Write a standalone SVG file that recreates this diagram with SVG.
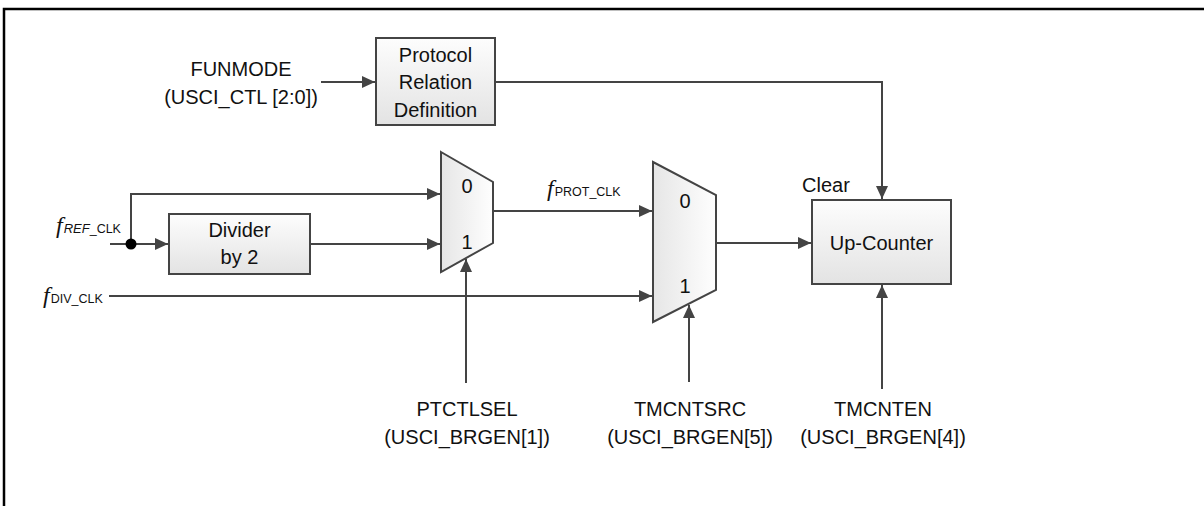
<svg xmlns="http://www.w3.org/2000/svg" width="1204" height="506" viewBox="0 0 1204 506">
<style>
text{font-family:"Liberation Sans",Arial,sans-serif;font-size:20px;fill:#111}
.c{text-anchor:middle}
.box{stroke:#444;stroke-width:2;fill:url(#gv)}
.mux{stroke:#444;stroke-width:2;fill:url(#gh)}
.w{fill:none;stroke:#444;stroke-width:2}
.fi{font-family:"Liberation Serif",serif;font-style:italic;font-size:24px}
.sub{font-size:12.5px}
.subi{font-size:13px;font-style:italic}
</style>
<defs>
<linearGradient id="gv" x1="0" y1="0" x2="0" y2="1"><stop offset="0" stop-color="#fdfdfd"/><stop offset="1" stop-color="#e3e3e3"/></linearGradient>
<linearGradient id="gh" x1="0" y1="0" x2="1" y2="0"><stop offset="0" stop-color="#e6e6e6"/><stop offset="1" stop-color="#fefefe"/></linearGradient>
<marker id="ah" markerUnits="userSpaceOnUse" markerWidth="14" markerHeight="12" refX="13" refY="6" orient="auto"><path d="M0,0 L13,6 L0,12 z" fill="#444"/></marker>
</defs>
<path d="M4,506 V9 H1204" fill="none" stroke="#000" stroke-width="2.5"/>

<g id="connectors">
<path class="w" d="M321,82 H375" marker-end="url(#ah)"/>
<path class="w" d="M495,82 H882 V199" marker-end="url(#ah)"/>
<path class="w" d="M131,244 V194 H440" marker-end="url(#ah)"/>
<path class="w" d="M110,244 H168" marker-end="url(#ah)"/>
<circle cx="131" cy="244" r="5.5" fill="#000"/>
<path class="w" d="M310,244 H440" marker-end="url(#ah)"/>
<path class="w" d="M109,296 H652" marker-end="url(#ah)"/>
<path class="w" d="M493,211 H652" marker-end="url(#ah)"/>
<path class="w" d="M716,243 H811" marker-end="url(#ah)"/>
<path class="w" d="M466,383 V259" marker-end="url(#ah)"/>
<path class="w" d="M689,382 V305" marker-end="url(#ah)"/>
<path class="w" d="M882,389 V285" marker-end="url(#ah)"/>
</g>

<g id="funmode">
<text class="c" x="241" y="76">FUNMODE</text>
<text class="c" x="241" y="104">(USCI_CTL [2:0])</text>
</g>

<g id="protocol">
<rect class="box" x="376" y="38" width="119" height="87"/>
<text class="c" x="435.5" y="62">Protocol</text>
<text class="c" x="435.5" y="89">Relation</text>
<text class="c" x="435.5" y="117">Definition</text>
</g>

<g id="fref">
<text x="56" y="233"><tspan class="fi">f</tspan><tspan class="subi" dx="1">REF</tspan><tspan class="sub">_</tspan><tspan class="sub">CLK</tspan></text>
</g>

<g id="divider">
<rect class="box" x="169" y="214" width="141" height="60"/>
<text class="c" x="239.5" y="237">Divider</text>
<text class="c" x="239.5" y="264">by 2</text>
</g>

<g id="fdiv">
<text x="43" y="303"><tspan class="fi">f</tspan><tspan class="sub" dx="1">DIV_CLK</tspan></text>
</g>

<g id="mux1">
<path class="mux" d="M441,152 L493,182 L493,243 L441,272 Z"/>
<text class="c" x="467" y="193">0</text>
<text class="c" x="467" y="249">1</text>
</g>

<g id="fprot">
<text x="547" y="196"><tspan class="fi">f</tspan><tspan class="sub" dx="1">PROT_CLK</tspan></text>
</g>

<g id="mux2">
<path class="mux" d="M653,162 L716,195 L716,290 L653,322 Z"/>
<text class="c" x="685" y="208">0</text>
<text class="c" x="685" y="293">1</text>
</g>

<g id="upcounter">
<text x="802" y="192">Clear</text>
<rect class="box" x="812" y="200" width="139" height="84"/>
<text class="c" x="881.5" y="250">Up-Counter</text>
</g>

<g id="ptctlsel">
<text class="c" x="467" y="416">PTCTLSEL</text>
<text class="c" x="467" y="444">(USCI_BRGEN[1])</text>
</g>

<g id="tmcntsrc">
<text class="c" x="690" y="416">TMCNTSRC</text>
<text class="c" x="690" y="444">(USCI_BRGEN[5])</text>
</g>

<g id="tmcnten">
<text class="c" x="883" y="416">TMCNTEN</text>
<text class="c" x="883" y="444">(USCI_BRGEN[4])</text>
</g>
</svg>
